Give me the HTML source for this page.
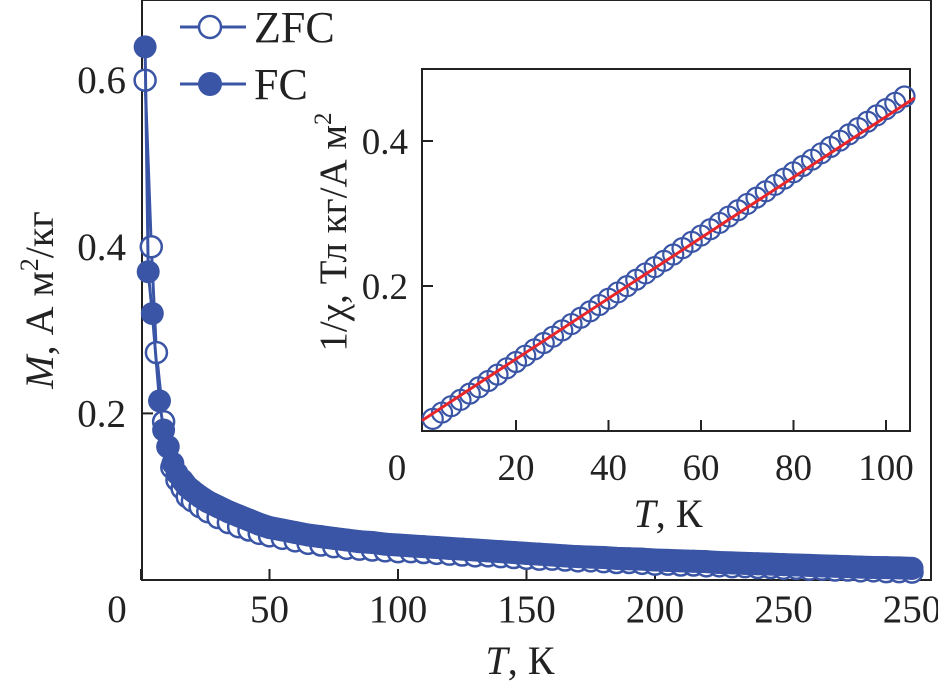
<!DOCTYPE html>
<html><head><meta charset="utf-8">
<style>
html,body{margin:0;padding:0;background:#fff;}
svg{display:block;font-family:"Liberation Serif",serif;}
</style></head>
<body>
<svg id="chart" width="938" height="690" viewBox="0 0 938 690">
<g id="main"></g>
<g id="inset"></g>
</svg>
<script>
// ---- main plot data ----
const fcT = [1.6,2.8,4.4,7.2,8.8,10.4,12.4,14,16,18,20,23,26,30,34,38,42,46,50,55,60,65,70,75,80,85,90,95,100,105,110,115,120,125,130,135,140,145,150,155,160,165,170,175,180,185,190,195,200,205,210,215,220,225,230,235,240,245,250,255,260,265,270,275,280,285,290,295,300];
const fcM = [0.64,0.37,0.32,0.215,0.18,0.16,0.14,0.128,0.12,0.112,0.107,0.1,0.094,0.088,0.082,0.077,0.072,0.067,0.063,0.06,0.057,0.054,0.052,0.05,0.048,0.046,0.045,0.043,0.042,0.041,0.040,0.039,0.038,0.037,0.036,0.035,0.034,0.033,0.032,0.031,0.030,0.029,0.028,0.0275,0.027,0.026,0.0255,0.025,0.024,0.0235,0.023,0.0225,0.022,0.021,0.0205,0.020,0.0195,0.019,0.0185,0.018,0.0175,0.017,0.0165,0.016,0.0155,0.015,0.0148,0.0145,0.014];
const zfcT = [1.6,4,6,8.8,10.5,12,14,16,18,20,23,26,30,34,38,42,46,50,55,60,65,70,75,80,85,90,95,100,105,110,115,120,125,130,135,140,145,150,155,160,165,170,175,180,185,190,195,200,205,210,215,220,225,230,235,240,245,250,255,260,265,270,275,280,285,290,295,300];
const zfcM = [0.6,0.4,0.273,0.19,0.16,0.135,0.12,0.11,0.10,0.095,0.088,0.082,0.075,0.069,0.064,0.06,0.056,0.053,0.050,0.047,0.044,0.042,0.040,0.038,0.037,0.036,0.035,0.034,0.034,0.033,0.032,0.031,0.030,0.029,0.029,0.028,0.027,0.026,0.025,0.025,0.024,0.023,0.023,0.022,0.021,0.021,0.020,0.019,0.019,0.018,0.018,0.017,0.017,0.016,0.016,0.015,0.015,0.014,0.014,0.013,0.013,0.012,0.012,0.011,0.011,0.010,0.010,0.0095];
const mainXTicks = [0,50,100,150,200,250,300];
const mainXTickLabels = ["0","50","100","150","200","250","250"];
const mainYTicks = [0.2,0.4,0.6];
const mainYTickLabels = ["0.2","0.4","0.6"];
// ---- inset data ----
const insT = [2,4,6,8,10,12,14,16,18,20,22,24,26,28,30,32,34,36,38,40,42,44,46,48,50,52,54,56,58,60,62,64,66,68,70,72,74,76,78,80,82,84,86,88,90,92,94,96,98,100,102,104];
const insInvChi = [0.0167,0.0254,0.0342,0.0429,0.0516,0.0603,0.069,0.0778,0.0865,0.0952,0.1039,0.1126,0.1214,0.1301,0.1388,0.1475,0.1562,0.165,0.1737,0.1824,0.1911,0.1998,0.2086,0.2173,0.226,0.2347,0.2434,0.2522,0.2609,0.2696,0.2783,0.287,0.2958,0.3045,0.3132,0.3219,0.3306,0.3394,0.3481,0.3568,0.3655,0.3742,0.383,0.3917,0.4004,0.4091,0.4178,0.4266,0.4353,0.444,0.4527,0.4614];
const fitT = [-0.3,106.2];
const fitV = [0.0145,0.4595];
const insXTicks = [20,40,60,80,100];
const insXTickLabels = ["20","40","60","80","100"];
const insYTicks = [0.2,0.4];
const insYTickLabels = ["0.2","0.4"];

const NS="http://www.w3.org/2000/svg";
const BLUE="#3a55a5";
function mk(parent,tag,attrs,text){const e=document.createElementNS(NS,tag);for(const k in attrs)e.setAttribute(k,attrs[k]);if(text!==undefined)e.textContent=text;parent.appendChild(e);return e;}

const mx = t => 141 + t*2.57;
const my = v => 580 - v*833;
const main=document.getElementById('main');
let e;
e=mk(main,'rect',{x:142,y:0,width:789,height:580,fill:'none',stroke:'#222','stroke-width':2});


mainXTicks.forEach((t,i)=>{
  let tk=mk(main,'line',{x1:mx(t),x2:mx(t),y1:580,y2:569,stroke:'#222','stroke-width':2});
  
  
  let lx = i===0 ? 117 : mx(t);
  let lb=mk(main,'text',{x:lx,y:622,'font-size':39,'text-anchor':'middle',fill:'#222'},mainXTickLabels[i]);
  
  
});
mainYTicks.forEach((v,i)=>{
  let tk=mk(main,'line',{x1:142,x2:153,y1:my(v),y2:my(v),stroke:'#222','stroke-width':2});
  
  
  let lb=mk(main,'text',{x:126,y:my(v)+13,'font-size':39,'text-anchor':'end',fill:'#222'},mainYTickLabels[i]);
  
  
});
e=mk(main,'text',{x:520,y:674,'font-size':40,'text-anchor':'middle',fill:'#222'});
e.innerHTML='<tspan font-style="italic">T</tspan>, К';


e=mk(main,'text',{x:0,y:0,'font-size':40,'text-anchor':'middle',fill:'#222',transform:'translate(53,300) rotate(-90)'});
e.innerHTML='<tspan font-style="italic">M</tspan>, А м<tspan font-size="26" dy="-15">2</tspan><tspan dy="15">/кг</tspan>';



// ZFC series
e=mk(main,'polyline',{points:zfcT.map((t,i)=>mx(t)+','+my(zfcM[i])).join(' '),fill:'none',stroke:BLUE,'stroke-width':3});


zfcT.forEach((t,i)=>{
  let c=mk(main,'circle',{cx:mx(t),cy:my(zfcM[i]),r:10.5,fill:'#fff',stroke:BLUE,'stroke-width':2.5});
  
  
});
// FC series
e=mk(main,'polyline',{points:fcT.map((t,i)=>mx(t)+','+my(fcM[i])).join(' '),fill:'none',stroke:BLUE,'stroke-width':3});


e=mk(main,'polyline',{points:fcT.slice(8).map((t,i)=>mx(t)+','+my(fcM[i+8])).join(' '),fill:'none',stroke:BLUE,'stroke-width':23,'stroke-linejoin':'round','stroke-linecap':'round'});


fcT.forEach((t,i)=>{
  let c=mk(main,'circle',{cx:mx(t),cy:my(fcM[i]),r:11.5,fill:BLUE});
  
  
});

// legend
e=mk(main,'line',{x1:180,x2:246,y1:27,y2:27,stroke:BLUE,'stroke-width':3});


e=mk(main,'circle',{cx:210,cy:27,r:11,fill:'#fff',stroke:BLUE,'stroke-width':2.5});


e=mk(main,'text',{x:254,y:42,'font-size':44,fill:'#222'},'ZFC');


e=mk(main,'line',{x1:180,x2:246,y1:84,y2:84,stroke:BLUE,'stroke-width':3});


e=mk(main,'circle',{cx:210,cy:84,r:12,fill:BLUE});


e=mk(main,'text',{x:254,y:99,'font-size':44,fill:'#222'},'FC');



// inset
const ix = t => 423.5 + t*4.625;
const iy = v => 431 - v*725;
const ins=document.getElementById('inset');
e=mk(ins,'rect',{x:422,y:69,width:488,height:362,fill:'#fff',stroke:'#222','stroke-width':2});


insXTicks.forEach((t,i)=>{
  let tk=mk(ins,'line',{x1:ix(t),x2:ix(t),y1:431,y2:420,stroke:'#222','stroke-width':2});
  
  
  let lb=mk(ins,'text',{x:ix(t),y:480,'font-size':37,'text-anchor':'middle',fill:'#222'},insXTickLabels[i]);
  
  
});
e=mk(ins,'text',{x:397,y:480,'font-size':37,'text-anchor':'middle',fill:'#222'},'0');


insYTicks.forEach((v,i)=>{
  let tk=mk(ins,'line',{x1:422,x2:433,y1:iy(v),y2:iy(v),stroke:'#222','stroke-width':2});
  
  
  let lb=mk(ins,'text',{x:408,y:iy(v)+13,'font-size':37,'text-anchor':'end',fill:'#222'},insYTickLabels[i]);
  
  
});
e=mk(ins,'text',{x:668,y:527,'font-size':40,'text-anchor':'middle',fill:'#222'});
e.innerHTML='<tspan font-style="italic">T</tspan>, К';


e=mk(ins,'text',{x:0,y:0,'font-size':39,'text-anchor':'middle',fill:'#222',transform:'translate(346,232) rotate(-90)'});
e.innerHTML='1/χ, Тл кг/А м<tspan font-size="25" dy="-15">2</tspan>';


insT.forEach((t,i)=>{
  let c=mk(ins,'circle',{cx:ix(t),cy:iy(insInvChi[i]),r:10,fill:'none',stroke:BLUE,'stroke-width':2.2});
  
  
});
e=mk(ins,'line',{x1:ix(fitT[0]),y1:iy(fitV[0]),x2:ix(fitT[1]),y2:iy(fitV[1]),stroke:'#e8262a','stroke-width':3});


</script>
</body></html>
